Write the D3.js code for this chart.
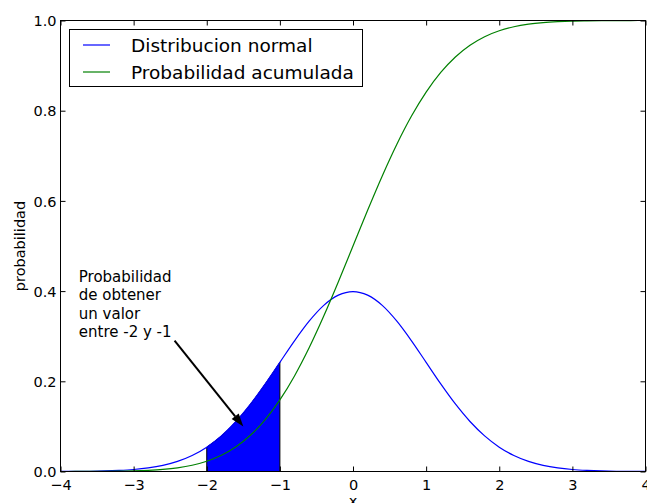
<!DOCTYPE html>
<html><head><meta charset="utf-8">
<script src="https://cdn.jsdelivr.net/npm/d3@7"></script>
<style>body{margin:0;background:#fff}svg{display:block}text{font-family:"DejaVu Sans",sans-serif;fill:#000}</style>
</head><body><svg id="c" width="647" height="503"></svg>
<script>
const xValues = [-4,-3.8,-3.6,-3.4,-3.2,-3,-2.8,-2.6,-2.4,-2.2,-2,-1.8,-1.6,-1.4,-1.2,-1,-0.8,-0.6,-0.4,-0.2,0,0.2,0.4,0.6,0.8,1,1.2,1.4,1.6,1.8,2,2.2,2.4,2.6,2.8,3,3.2,3.4,3.6,3.8,4];
const pdfValues = [0.0001,0.0003,0.0006,0.0012,0.0024,0.0044,0.0079,0.0136,0.0224,0.0355,0.0540,0.0790,0.1109,0.1497,0.1942,0.2420,0.2897,0.3332,0.3683,0.3910,0.3989,0.3910,0.3683,0.3332,0.2897,0.2420,0.1942,0.1497,0.1109,0.0790,0.0540,0.0355,0.0224,0.0136,0.0079,0.0044,0.0024,0.0012,0.0006,0.0003,0.0001];
const cdfValues = [0.0000,0.0001,0.0002,0.0003,0.0007,0.0013,0.0026,0.0047,0.0082,0.0139,0.0228,0.0359,0.0548,0.0808,0.1151,0.1587,0.2119,0.2743,0.3446,0.4207,0.5,0.5793,0.6554,0.7257,0.7881,0.8413,0.8849,0.9192,0.9452,0.9641,0.9772,0.9861,0.9918,0.9953,0.9974,0.9987,0.9993,0.9997,0.9998,0.9999,1.0];
const xTicks = [-4,-3,-2,-1,0,1,2,3,4];
const yTicks = [0.0,0.2,0.4,0.6,0.8,1.0];
const seriesNames = ["Distribucion normal","Probabilidad acumulada"];
const seriesColors = ["#0000ff","#008000"];
const shadeRange = [-2,-1];
const annotationLines = ["Probabilidad","de obtener","un valor","entre -2 y -1"];

const svg = d3.select("#c");
const L=60.5, R=645.5, T=20.5, B=471.5;
const x = d3.scaleLinear().domain([-4,4]).range([L,R]);
const y = d3.scaleLinear().domain([0,1]).range([B,T]);

const pdfData = xValues.map((v,i)=>({x:v,y:pdfValues[i]}));
const cdfData = xValues.map((v,i)=>({x:v,y:cdfValues[i]}));

// shaded area
const shade = pdfData.filter(d=>d.x>=shadeRange[0]-1e-9 && d.x<=shadeRange[1]+1e-9);
const area = d3.area().x(d=>x(d.x)).y0(y(0)).y1(d=>y(d.y)).curve(d3.curveMonotoneX);
svg.append("path").attr("d",area(shade)).attr("fill","#0000ff").attr("stroke","#000").attr("stroke-width",1);

const line = d3.line().x(d=>x(d.x)).y(d=>y(d.y)).curve(d3.curveMonotoneX);
svg.append("path").attr("d",line(pdfData)).attr("fill","none").attr("stroke",seriesColors[0]).attr("stroke-width",1.2);
svg.append("path").attr("d",line(cdfData)).attr("fill","none").attr("stroke",seriesColors[1]).attr("stroke-width",1.2);

// frame
svg.append("rect").attr("x",L).attr("y",T).attr("width",R-L).attr("height",B-T).attr("fill","none").attr("stroke","#000").attr("stroke-width",1);

// axes with inward ticks
const tk=5;
const gx = svg.append("g").attr("transform",`translate(0,${B})`)
  .call(d3.axisBottom(x).tickValues(xTicks).tickSize(-tk).tickPadding(8).tickFormat(d=>d<0?"\u2212"+Math.abs(d):String(d)));
const gxt = svg.append("g").attr("transform",`translate(0,${T})`)
  .call(d3.axisTop(x).tickValues(xTicks).tickSize(-tk).tickFormat(""));
const gy = svg.append("g").attr("transform",`translate(${L},0)`)
  .call(d3.axisLeft(y).tickValues(yTicks).tickSize(-tk).tickPadding(4).tickFormat(d3.format(".1f")));
const gyr = svg.append("g").attr("transform",`translate(${R},0)`)
  .call(d3.axisRight(y).tickValues(yTicks).tickSize(-tk).tickFormat(""));
[gx,gxt,gy,gyr].forEach(g=>{g.select(".domain").remove();g.selectAll("line").attr("stroke","#000");
  g.selectAll("text").attr("font-family","DejaVu Sans").attr("font-size",14.5).attr("fill","#000");});
gy.selectAll("text").attr("dy","0.36em");

// axis labels
svg.append("text").attr("x",(L+R)/2).attr("y",506).attr("text-anchor","middle").attr("font-size",14.5).text("x");
svg.append("text").attr("transform",`translate(24.5,${(T+B)/2}) rotate(-90)`).attr("text-anchor","middle").attr("font-size",14.5).text("probabilidad");

// annotation
const ann = svg.append("text").attr("x",x(-3.75)).attr("y",282).attr("font-size",15);
annotationLines.forEach((t,i)=>ann.append("tspan").attr("x",x(-3.75)).attr("dy",i?18.4:0).text(t));
const sx=x(-2.44), sy=y(0.29), ex=x(-1.5), ey=y(0.1);
const ang=Math.atan2(ey-sy,ex-sx), hl=13, hw=4.5;
const bx=ex-hl*Math.cos(ang), by=ey-hl*Math.sin(ang);
svg.append("line").attr("x1",sx).attr("y1",sy).attr("x2",bx).attr("y2",by).attr("stroke","#000").attr("stroke-width",2);
svg.append("path").attr("d",`M${ex},${ey}L${bx+hw*Math.sin(ang)},${by-hw*Math.cos(ang)}L${bx-hw*Math.sin(ang)},${by+hw*Math.cos(ang)}Z`).attr("fill","#000");

// legend
const lg = svg.append("g");
lg.append("rect").attr("x",69.5).attr("y",29.5).attr("width",293).attr("height",57).attr("fill","#fff").attr("stroke","#000").attr("stroke-width",1);
seriesNames.forEach((n,i)=>{
  const cy = 45+i*27;
  lg.append("line").attr("x1",83).attr("x2",110).attr("y1",cy).attr("y2",cy).attr("stroke",seriesColors[i]).attr("stroke-width",1.2);
  lg.append("text").attr("x",131).attr("y",cy+6.7).attr("font-size",18.5).text(n);
});
</script></body></html>
